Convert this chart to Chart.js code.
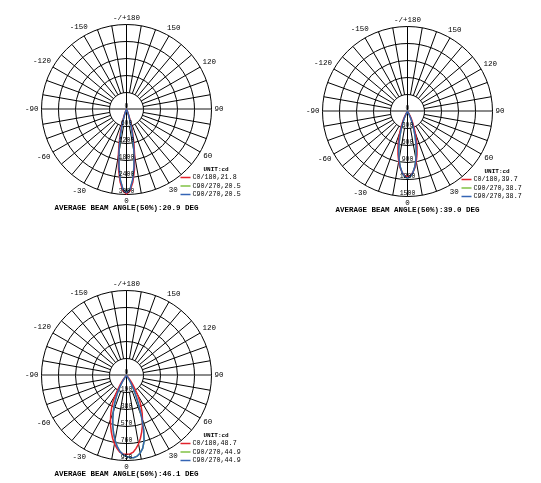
<!DOCTYPE html>
<html><head><meta charset="utf-8">
<script src="https://cdn.jsdelivr.net/npm/chart.js@4.4.1/dist/chart.umd.min.js"></script>
<style>
html,body{margin:0;padding:0;background:#fff;width:541px;height:483px;overflow:hidden;position:relative}
canvas{position:absolute}
</style></head><body>
<canvas id="c1" width="270" height="240" style="left:0;top:0;width:270px;height:240px"></canvas>
<canvas id="c2" width="271" height="240" style="left:270px;top:0;width:271px;height:240px"></canvas>
<canvas id="c3" width="270" height="243" style="left:0;top:240px;width:270px;height:243px"></canvas>
<script>
// ---------------- data ----------------
// gamma angles (deg) at which intensities (cd) are given; beyond 60 deg intensity is 0
const gammaAngles = [0,2.5,5,7.5,10,12.5,15,17.5,20,22.5,25,27.5,30,32.5,35,37.5,40,42.5,45,47.5,50,52.5,55,57.5,60];
const angleAxisLabels = ['-/+180','150','120','90','60','30','0','-30','-60','-90','-120','-150'];
const planeNames = ['C0/180','C90/270','C90/270'];
const planeColors = ['#e3222b','#80c244','#3464b4'];
const unitLabel = 'UNIT:cd';

// Chart 1
const chart1Ticks = [0,600,1200,1800,2400,3000];
const chart1C0_180  = [2980,2873,2575,2146,1663,1198,802,500,289,156,78,36,15,5,0,0,0,0,0,0,0,0,0,0,0];
const chart1C90_270 = [2940,2822,2493,2029,1520,1050,667,390,210,105,48,20,8,3,0,0,0,0,0,0,0,0,0,0,0];
const chart1Beams = [21.8,20.5,20.5];
const chart1AverageBeam = 20.9;

// Chart 2
const chart2Ticks = [0,300,600,900,1200,1500];
const chart2C0_180  = [1150,1134,1080,1000,895,775,650,525,405,300,212,142,90,54,30,16,8,4,2,1,0,0,0,0,0];
const chart2C90_270 = [1175,1152,1085,985,855,715,570,435,315,218,143,88,50,27,14,7,3,1,0,0,0,0,0,0,0];
const chart2Beams = [39.7,38.7,38.7];
const chart2AverageBeam = 39.0;

// Chart 3
const chart3Ticks = [0,190,380,570,760,950];
const chart3C0_180 = [880,877,860,822,775,718,655,590,522,458,390,320,245,172,112,70,42,25,14,7,3,0,0,0,0];
const chart3C90    = [905,918,922,910,880,835,760,640,490,360,250,165,100,55,28,12,5,0,0,0,0,0,0,0,0];
const chart3C270   = [905,885,850,800,735,665,590,510,430,355,282,212,150,98,58,30,14,5,0,0,0,0,0,0,0];
const chart3Beams = [48.7,44.9,44.9];
const chart3AverageBeam = 46.1;

// ---------------- helpers ----------------
const STEP = gammaAngles[1] - gammaAngles[0];
// radar categories: clockwise from the top (180) through right (90), bottom (0), left (-90)
const radialAngles = Array.from({length: Math.round(360 / STEP)}, (_, i) => 180 - i * STEP);
function buildSeries(rightSide, leftSide) {
  return radialAngles.map(g => {
    const arr = g >= 0 ? rightSide : leftSide;
    const k = gammaAngles.indexOf(Math.abs(g));
    return k >= 0 ? arr[k] : 0;
  });
}
const MONO = '"Liberation Mono", "Courier New", monospace';

const photometricPlugin = {
  id: 'photometric',
  beforeDraw(chart) {
    const s = chart.scales.r, ctx = chart.ctx;
    ctx.save();
    ctx.translate(0.5, 0.5);
    // spokes every 10 degrees, from the first ring outwards
    const R = s.drawingArea;
    const r1 = s.getDistanceFromCenterForValue(s.ticks[1].value);
    const n = chart.data.labels.length, q = n / 4;
    const spokeEvery = Math.round(10 / STEP);
    ctx.save();
    ctx.strokeStyle = '#000'; ctx.lineWidth = 1;
    ctx.beginPath();
    for (let i = 0; i < n; i += spokeEvery) {
      if (i % q === 0) continue;
      const a = s.getPointPosition(i, r1), b = s.getPointPosition(i, R);
      ctx.moveTo(a.x, a.y); ctx.lineTo(b.x, b.y);
    }
    ctx.stroke();
    // vertical diameter (0 / 180)
    let a = s.getPointPosition(0, R), b = s.getPointPosition(2 * q, R);
    ctx.beginPath(); ctx.moveTo(a.x, a.y); ctx.lineTo(b.x, b.y); ctx.stroke();
    // horizontal diameter (-90 / 90)
    a = s.getPointPosition(q, R); b = s.getPointPosition(3 * q, R);
    ctx.strokeStyle = '#8a8a8a'; ctx.lineWidth = 2;
    ctx.beginPath(); ctx.moveTo(a.x, a.y - 0.5); ctx.lineTo(b.x, b.y - 0.5); ctx.stroke();
    ctx.restore();
  },
  afterDatasetsDraw(chart) {
    const s = chart.scales.r, ctx = chart.ctx;
    ctx.save();
    ctx.font = '6.5px ' + MONO;
    ctx.fillStyle = '#000'; ctx.textAlign = 'center'; ctx.textBaseline = 'middle';
    s.ticks.forEach(t => {
      const d = s.getDistanceFromCenterForValue(t.value);
      ctx.fillText(t.label, s.xCenter, s.yCenter + d - 3);
    });
    ctx.restore();
  },
  afterDraw(chart, args, opts) {
    const s = chart.scales.r, ctx = chart.ctx;
    const R = s.drawingArea, cx = s.xCenter, cy = s.yCenter;
    const n = chart.data.labels.length, per = n / opts.angleLabels.length;
    ctx.save();
    ctx.fillStyle = '#000'; ctx.textAlign = 'center'; ctx.textBaseline = 'middle';
    ctx.font = '7.5px ' + MONO;
    opts.angleLabels.forEach((lab, j) => {
      const idx = j * per;
      const ang = s.getIndexAngle(idx);
      const w = ctx.measureText(lab).width;
      const dist = R + 3 + Math.abs(Math.sin(ang)) * w / 2 + Math.abs(Math.cos(ang)) * 3.6;
      const p = s.getPointPosition(idx, dist);
      ctx.fillText(lab, p.x, p.y);
    });
    // title line
    ctx.font = 'bold 7.5px ' + MONO;
    ctx.fillText(opts.title, cx, cy + 98.5);
    // legend
    ctx.textAlign = 'left';
    ctx.font = 'bold 6px ' + MONO;
    ctx.fillText(opts.unit, cx + 77, cy + 59.5);
    ctx.font = '6.7px ' + MONO;
    chart.data.datasets.forEach((ds, i) => {
      const y = cy + 68 + 8.5 * i;
      ctx.strokeStyle = ds.borderColor; ctx.lineWidth = 1.5;
      ctx.beginPath(); ctx.moveTo(cx + 54, y); ctx.lineTo(cx + 64, y); ctx.stroke();
      ctx.fillText(ds.label, cx + 66, y);
    });
    ctx.restore();
    ctx.restore();
  }
};

function makeChart(id, ticks, series, beams, avg, padding) {
  const datasets = series.map((data, i) => ({
    label: planeNames[i] + ',' + beams[i].toFixed(1),
    data,
    borderColor: planeColors[i],
    borderWidth: 1.5,
    pointRadius: 0,
    fill: false,
    tension: 0,
    order: [1, 2, 0][i]
  }));
  return new Chart(document.getElementById(id), {
    type: 'radar',
    data: { labels: radialAngles, datasets },
    options: {
      responsive: false, animation: false, devicePixelRatio: 1,
      events: [],
      layout: { padding },
      plugins: {
        legend: { display: false }, title: { display: false }, tooltip: { enabled: false },
        photometric: {
          angleLabels: angleAxisLabels,
          title: 'AVERAGE BEAM ANGLE(50%):' + avg.toFixed(1) + ' DEG',
          unit: unitLabel
        }
      },
      scales: {
        r: {
          min: ticks[0], max: ticks[ticks.length - 1], startAngle: 0,
          afterBuildTicks: (scale) => { scale.ticks = ticks.map(v => ({ value: v })); },
          ticks: { display: false, callback: v => String(v) },
          grid: { circular: true, color: '#000', lineWidth: 1 },
          angleLines: { display: false },
          pointLabels: { display: false }
        }
      }
    },
    plugins: [photometricPlugin]
  });
}

makeChart('c1', chart1Ticks,
  [buildSeries(chart1C0_180, chart1C0_180), buildSeries(chart1C90_270, chart1C90_270), buildSeries(chart1C90_270, chart1C90_270)],
  chart1Beams, chart1AverageBeam, { left: 41, top: 24, right: 59, bottom: 46 });
makeChart('c2', chart2Ticks,
  [buildSeries(chart2C0_180, chart2C0_180), buildSeries(chart2C90_270, chart2C90_270), buildSeries(chart2C90_270, chart2C90_270)],
  chart2Beams, chart2AverageBeam, { left: 52, top: 26, right: 49, bottom: 44 });
makeChart('c3', chart3Ticks,
  [buildSeries(chart3C0_180, chart3C0_180), buildSeries(chart3C90, chart3C270), buildSeries(chart3C90, chart3C270)],
  chart3Beams, chart3AverageBeam, { left: 41, top: 50, right: 59, bottom: 23 });
</script></body></html>
